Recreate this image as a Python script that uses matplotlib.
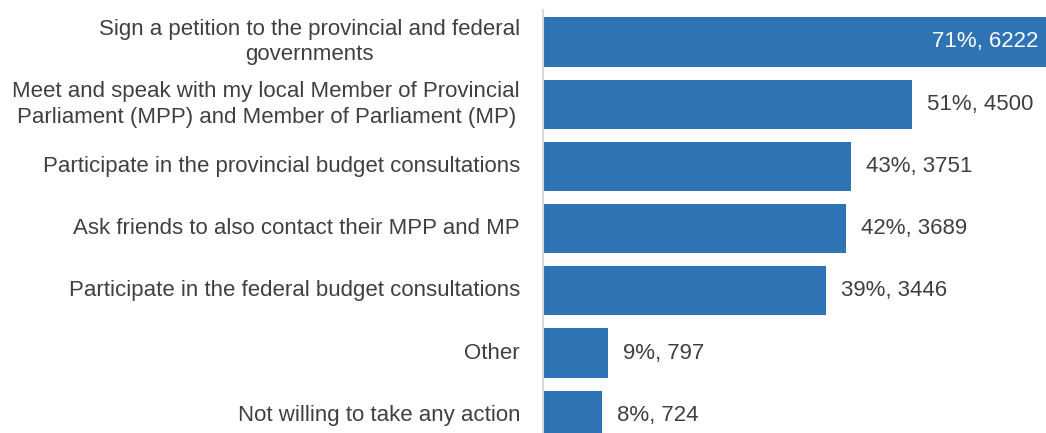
import matplotlib.pyplot as plt

actions = [
    'Sign a petition to the provincial and federal\ngovernments',
    'Meet and speak with my local Member of Provincial\nParliament (MPP) and Member of Parliament (MP)',
    'Participate in the provincial budget consultations',
    'Ask friends to also contact their MPP and MP',
    'Participate in the federal budget consultations',
    'Other',
    'Not willing to take any action',
]
percents = [71, 51, 43, 42, 39, 9, 8]
counts = [6222, 4500, 3751, 3689, 3446, 797, 724]

plt.rcParams['font.family'] = ['Liberation Sans', 'DejaVu Sans']

blue = '#2E74B5'
grey = '#404040'
fs = 16

fig = plt.figure(figsize=(10.46, 4.33), dpi=100)
ax = fig.add_axes([543 / 1046, 0, 1 - 543 / 1046, 1])

pos = list(range(len(actions)))
ax.barh(pos, counts, height=0.79, color=blue)
# the longest bar runs past the right edge
ax.set_xlim(0, 6134)
ax.set_ylim(6.286, -0.675)

for spine in ['top', 'right', 'bottom']:
    ax.spines[spine].set_visible(False)
ax.spines['left'].set_color('#d9d9d9')
ax.spines['left'].set_linewidth(1.5)
ax.spines['left'].set_bounds(-0.51, 6.286)
ax.set_xticks([])
ax.set_yticks([])

for i, (lab, p, c) in enumerate(zip(actions, percents, counts)):
    ax.annotate(lab, xy=(0, i), xytext=(-23, 0), textcoords='offset pixels',
                ha='right', va='center', multialignment='center',
                fontsize=fs, color=grey, linespacing=1.3,
                annotation_clip=False)
    txt = f'{p}%, {c}'
    if i == 0:
        ax.annotate(txt, xy=(6134, i), xytext=(-8, 0), textcoords='offset pixels',
                    ha='right', va='center', fontsize=fs, color='white')
    else:
        ax.annotate(txt, xy=(c, i), xytext=(15, 0), textcoords='offset pixels',
                    ha='left', va='center', fontsize=fs, color=grey)

fig.savefig('out.png', dpi=100)
